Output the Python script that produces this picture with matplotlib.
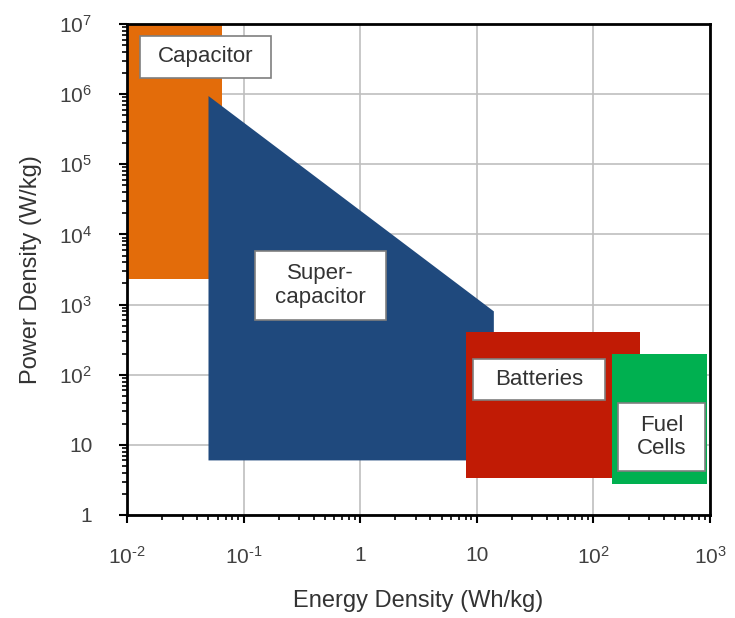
import matplotlib
matplotlib.use("Agg")
import matplotlib.pyplot as plt
from matplotlib.patches import Rectangle
from matplotlib.ticker import LogLocator, FixedLocator, FixedFormatter, NullFormatter

plt.rcParams['font.family'] = ['Liberation Sans', 'DejaVu Sans']
plt.rcParams['mathtext.fontset'] = 'custom'
plt.rcParams['mathtext.rm'] = 'Liberation Sans'
plt.rcParams['mathtext.it'] = 'Liberation Sans:italic'
plt.rcParams['mathtext.bf'] = 'Liberation Sans:bold'

# ---- data ----
categories = ['Capacitor', 'Super-\ncapacitor', 'Batteries', 'Fuel\nCells']
capacitor_energy = [0.01, 0.065]
capacitor_power = [2300, 1e7]
supercap_energy = [0.05, 0.05, 14, 14]
supercap_power = [6, 9.4e5, 800, 6]
battery_energy = [8, 250]
battery_power = [3.4, 400]
fuelcell_energy = [145, 950]
fuelcell_power = [2.8, 200]
colors = ['#E36C0A', '#1F497D', '#C11B05', '#00B050']

x_ticks = [1e-2, 1e-1, 1, 10, 1e2, 1e3]
x_ticklabels = [r'$\mathregular{10^{\text{-}2}}$', r'$\mathregular{10^{\text{-}1}}$', '1', '10',
                r'$\mathregular{10^{2}}$', r'$\mathregular{10^{3}}$']
y_ticks = [1, 10, 1e2, 1e3, 1e4, 1e5, 1e6, 1e7]
y_ticklabels = ['1', '10', r'$\mathregular{10^{2}}$', r'$\mathregular{10^{3}}$',
                r'$\mathregular{10^{4}}$', r'$\mathregular{10^{5}}$',
                r'$\mathregular{10^{6}}$', r'$\mathregular{10^{7}}$']

W, H = 735, 618
fig = plt.figure(figsize=(W / 100, H / 100), dpi=100)
ax = fig.add_axes([127 / W, 1 - 515 / H, 583 / W, 491 / H])
ax.set_xscale('log')
ax.set_yscale('log')
ax.set_xlim(1e-2, 1e3)
ax.set_ylim(1, 1e7)


def rect(xr, yr):
    return [xr[0], xr[1], xr[1], xr[0]], [yr[0], yr[0], yr[1], yr[1]]


xs, ys = rect(capacitor_energy, capacitor_power)
ax.fill(xs, ys, color=colors[0], lw=0, zorder=2)
ax.fill(supercap_energy, supercap_power, color=colors[1], lw=0, zorder=3)
xs, ys = rect(battery_energy, battery_power)
ax.fill(xs, ys, color=colors[2], lw=0, zorder=4)
xs, ys = rect(fuelcell_energy, fuelcell_power)
ax.fill(xs, ys, color=colors[3], lw=0, zorder=5)

# label boxes (axes fraction)
boxes = [(0.0218, 0.8906, 0.2247, 0.085),
         (0.2196, 0.3971, 0.2247, 0.1406),
         (0.594, 0.2342, 0.2259, 0.0835),
         (0.8417, 0.0896, 0.1497, 0.1391)]
for name, (bx, by, bw, bh) in zip(categories, boxes):
    ax.add_patch(Rectangle((bx, by), bw, bh, transform=ax.transAxes,
                           facecolor='white', edgecolor='#7F7F7F', lw=1.2, zorder=6))
    ax.text(bx + bw / 2, by + bh / 2, name, transform=ax.transAxes,
            ha='center', va='center', fontsize=16, color='#333333',
            linespacing=1.15, zorder=7)

ax.grid(True, which='major', color='#BFBFBF', lw=1.2, zorder=0)
ax.set_axisbelow(True)

ax.xaxis.set_major_locator(FixedLocator(x_ticks))
ax.xaxis.set_major_formatter(FixedFormatter(x_ticklabels))
ax.yaxis.set_major_locator(FixedLocator(y_ticks))
ax.yaxis.set_major_formatter(FixedFormatter(y_ticklabels))
ax.xaxis.set_minor_locator(LogLocator(base=10, subs=range(2, 10), numticks=20))
ax.yaxis.set_minor_locator(LogLocator(base=10, subs=range(2, 10), numticks=20))
ax.xaxis.set_minor_formatter(NullFormatter())
ax.yaxis.set_minor_formatter(NullFormatter())

ax.tick_params(which='major', direction='out', length=6, width=1.5,
               labelsize=15, labelcolor='#404040')
ax.tick_params(axis='y', which='major', pad=19)
ax.tick_params(axis='x', which='major', pad=16)
ax.tick_params(which='minor', direction='out', length=3.5, width=1.2)
ax.tick_params(top=False, right=False, which='both')

for s in ax.spines.values():
    s.set_linewidth(2)
    s.set_color('black')

ax.set_xlabel('Energy Density (Wh/kg)', fontsize=17, color='#333333', labelpad=16)
ax.set_ylabel('Power Density (W/kg)', fontsize=17, color='#333333', labelpad=12)

fig.savefig('out.png', dpi=100)
